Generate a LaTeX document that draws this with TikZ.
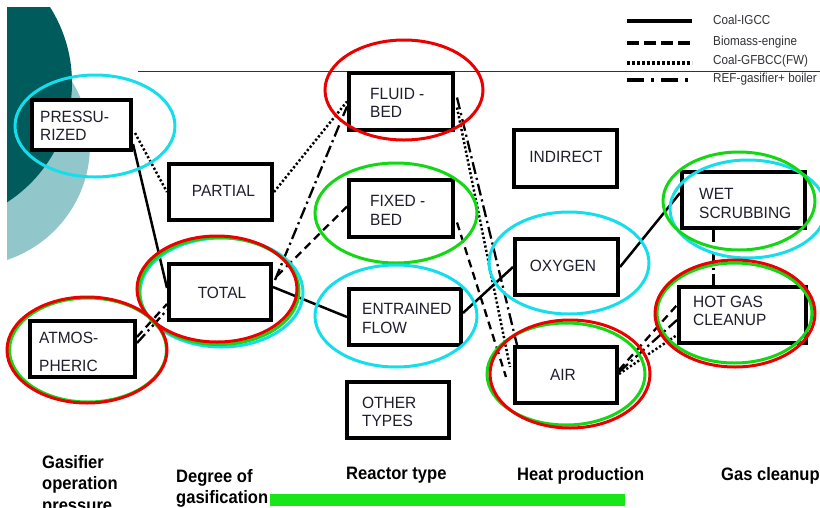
\documentclass[tikz,border=0pt]{standalone}
\usepackage{fontspec}
\setmainfont{Liberation Sans}
\newfontfamily\boxfont[FakeStretch=0.95]{Liberation Sans}
\newfontfamily\keyfont[FakeStretch=0.9]{Liberation Sans}
\newfontfamily\axisfont[FakeStretch=0.92]{Liberation Sans}
\usetikzlibrary{calc}

\definecolor{tealD}{RGB}{0,92,92}
\definecolor{tealL}{RGB}{145,198,202}
\definecolor{ringR}{RGB}{235,0,0}
\definecolor{ringG}{RGB}{20,215,20}
\definecolor{ringC}{RGB}{20,222,235}
\definecolor{barG}{RGB}{25,230,25}
\definecolor{boxtext}{RGB}{30,30,45}
\definecolor{keytext}{RGB}{50,50,55}

\begin{document}
\begin{tikzpicture}[x=1pt,y=-1pt,
  blk/.style={draw=black, fill=white, line width=4.2pt, inner sep=0pt},
  txt/.style={anchor=west, align=left, inner sep=0pt, text=boxtext,
              font=\boxfont\fontsize{16.3}{18.5}\selectfont},
  ctxt/.style={anchor=center, inner sep=0pt, text=boxtext,
              font=\boxfont\fontsize{16.3}{18.5}\selectfont},
  axis/.style={anchor=north west, align=left, inner sep=0pt, text=black,
              font=\axisfont\bfseries\fontsize{18}{21.5}\selectfont},
  keytxt/.style={anchor=west, inner sep=0pt, text=keytext,
              font=\keyfont\fontsize{13}{15}\selectfont},
  ring/.style={draw=#1, line width=3pt},
  igcc/.style={line width=2.5pt},
  bio/.style={line width=2.3pt, dash pattern=on 8pt off 5pt},
  gfbcc/.style={line width=2.5pt, dash pattern=on 2.2pt off 2.2pt},
  ref/.style={line width=2.3pt, dash pattern=on 12pt off 4pt on 2.2pt off 4pt},
  keyigcc/.style={line width=3.5pt},
  keybio/.style={line width=3.5pt, dash pattern=on 12pt off 5pt},
  keygfbcc/.style={line width=3.5pt, dash pattern=on 2.5pt off 2.5pt},
  keyref/.style={line width=3.5pt, dash pattern=on 17pt off 7pt on 3pt off 7pt},
]
\useasboundingbox (0,0) rectangle (820,507);
\clip (0,0) rectangle (820,507);
\fill[white] (0,0) rectangle (820,507);

% decorative quarter discs at the left edge
\begin{scope}
  \clip (7,7) rectangle (400,507);
  \fill[tealL] (-31,145) circle [radius=121pt];
  \fill[tealD] (-70,83) circle [radius=142pt];
\end{scope}

% rule under the legend
\coordinate (ruleL) at (138,71);
\coordinate (ruleR) at (820,71);
\draw[line width=0.9pt, black!80] (ruleL) -- (ruleR);

% legend
\coordinate (k1a) at (627,21); \coordinate (k1b) at (692,21);
\coordinate (k2a) at (627,43); \coordinate (k2b) at (692,43);
\coordinate (k3a) at (627,63); \coordinate (k3b) at (692,63);
\coordinate (k4a) at (627,80); \coordinate (k4b) at (692,80);
\draw[keyigcc] (k1a) -- (k1b);
\draw[keybio] (k2a) -- (k2b);
\draw[keygfbcc] (k3a) -- (k3b);
\draw[keyref] (k4a) -- (k4b);
\node[keytxt] (k1t) at (713,20) {Coal-IGCC};
\node[keytxt] (k2t) at (713,42) {Biomass-engine};
\node[keytxt] (k3t) at (713,61) {Coal-GFBCC(FW)};
\node[keytxt] (k4t) at (713,79) {REF-gasifier+ boiler};

% boxes (placed first so the connectors can refer to them)
\node[blk, minimum width=98.8pt,  minimum height=49.8pt] (pr) at (81.5,125) {};
\node[blk, minimum width=102.8pt, minimum height=55.8pt] (pa) at (220.5,192) {};
\node[blk, minimum width=101.8pt, minimum height=55.8pt] (to) at (220,292) {};
\node[blk, minimum width=104.8pt, minimum height=55.8pt] (at) at (82.5,349) {};
\node[blk, minimum width=103.8pt, minimum height=56.8pt] (fl) at (401,101.5) {};
\node[blk, minimum width=103.8pt, minimum height=56.8pt] (fx) at (401,208.5) {};
\node[blk, minimum width=111.8pt, minimum height=55.8pt] (en) at (405,317) {};
\node[blk, minimum width=101.8pt, minimum height=55.8pt] (ot) at (398,410) {};
\node[blk, minimum width=102.8pt, minimum height=56.8pt] (in) at (565.5,158.5) {};
\node[blk, minimum width=102.8pt, minimum height=55.8pt] (ox) at (566.5,267) {};
\node[blk, minimum width=101.8pt, minimum height=55.8pt] (ai) at (566,375) {};
\node[blk, minimum width=122.8pt, minimum height=55.8pt] (ws) at (743.5,200) {};
\node[blk, minimum width=126.8pt, minimum height=55.8pt] (hg) at (742.5,315) {};

% Coal-IGCC route
\draw[igcc] ($(pr.south east)+(0,-8)$) -- ($(to.west)+(0,-4)$);
\draw[igcc] ($(to.east)+(0,-5)$) -- (en.west);
\draw[igcc] ($(en.east)+(0,-4)$) -- (ox.west);
\draw[igcc] (ox.east) -- ($(ws.west)+(0,-7)$);

% Coal-GFBCC(FW) route
\draw[gfbcc] ($(pr.east)+(2,8)$) -- (pa.west);
\draw[gfbcc] (pa.east) -- (fl.west);
\draw[gfbcc] ($(fl.east)+(2,6)$) -- ($(ai.west)+(-3,-8)$);
\draw[gfbcc] ($(ai.east)+(0,-1)$) -- ($(hg.west)+(0,20)$);

% Biomass-engine route
\draw[bio] ($(at.north east)+(0,18)$) -- ($(to.south west)+(0,-18)$);
\draw[bio] ($(to.north east)+(4,14)$) -- ($(fx.west)+(0,-2)$);
\draw[bio] ($(fx.east)+(2,14)$) -- ($(ai.west)+(-7,2)$);
\draw[bio] ($(ai.east)+(0,-5)$) -- ($(hg.west)+(0,-10)$);

% REF-gasifier + boiler route
\draw[ref] ($(at.north east)+(0,24)$) -- ($(to.south west)+(0,-12)$);
\draw[ref] ($(to.north east)+(2,18)$) -- ($(fl.west)+(0,5)$);
\draw[ref] ($(fl.east)+(2,-4)$) -- ($(ai.north west)+(4,0)$);
\draw[ref] ($(ai.east)+(0,-3)$) -- ($(hg.west)+(0,5)$);
\draw[ref] ($(ws.south)+(-30,0)$) -- ($(hg.north)+(-29,0)$);

% box labels
\node[txt]  (prt) at (40,126)   {PRESSU-\\RIZED};
\node[ctxt] (pat) at (223.5,191) {PARTIAL};
\node[ctxt] (tot) at (222,293)  {TOTAL};
\node[txt]  (att) at (39,352)   {ATMOS-\\[10pt]PHERIC};
\node[txt]  (flt) at (370,103)  {FLUID -\\BED};
\node[txt]  (fxt) at (370,210.5) {FIXED -\\BED};
\node[txt]  (ent) at (362,318.5) {ENTRAINED\\FLOW};
\node[txt]  (ott) at (362,412)  {OTHER\\TYPES};
\node[ctxt] (int) at (566,157)  {INDIRECT};
\node[ctxt] (oxt) at (563,266)  {OXYGEN};
\node[ctxt] (ait) at (563,375)  {AIR};
\node[txt]  (wst) at (699,203.5) {WET\\SCRUBBING};
\node[txt]  (hgt) at (693,311)  {HOT GAS\\CLEANUP};

% selection rings
\draw[ring=ringC] (95,126) ellipse [x radius=80pt, y radius=51pt];
\draw[ring=ringC] (221.5,292.5) ellipse [x radius=81.5pt, y radius=54.5pt];
\draw[ring=ringG] (219,291) ellipse [x radius=80pt, y radius=53.5pt];
\draw[ring=ringR] (217,289) ellipse [x radius=80pt, y radius=53pt];
\draw[ring=ringG] (88,350) ellipse [x radius=78.5pt, y radius=52pt];
\draw[ring=ringR] (87,350) ellipse [x radius=80pt, y radius=53pt];
\draw[ring=ringR] (404,90) ellipse [x radius=79pt, y radius=50pt];
\draw[ring=ringG] (396,213) ellipse [x radius=81pt, y radius=50pt];
\draw[ring=ringC] (396,316) ellipse [x radius=81pt, y radius=51pt];
\draw[ring=ringC] (569,263) ellipse [x radius=80pt, y radius=51pt];
\draw[ring=ringG] (566,374) ellipse [x radius=79pt, y radius=51pt];
\draw[ring=ringR] (570,374) ellipse [x radius=80pt, y radius=54pt];
\draw[ring=ringC] (748,209) ellipse [x radius=78pt, y radius=49pt];
\draw[ring=ringG] (739,201) ellipse [x radius=76pt, y radius=49pt];
\draw[ring=ringG] (734.5,313) ellipse [x radius=77.5pt, y radius=50pt];
\draw[ring=ringR] (735,313.5) ellipse [x radius=80pt, y radius=53.5pt];

% stage captions along the bottom
\node[axis] (c1) at (42,455)  {Gasifier\\operation\\pressure};
\node[axis] (c2) at (176,469) {Degree of\\gasification};
\node[axis] (c3) at (346,467) {Reactor type};
\node[axis] (c4) at (517,467) {Heat production};
\node[axis] (c5) at (721,467) {Gas cleanup};

% highlight bar
\fill[barG] (270,494) rectangle (625,506);
\end{tikzpicture}
\end{document}
